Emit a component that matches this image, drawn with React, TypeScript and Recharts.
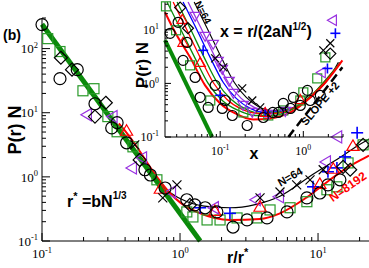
import React from 'react';
import { ComposedChart, Line, Scatter, XAxis, YAxis } from 'recharts';

type P = [number, number];

// ---------- main panel : P(r) N versus r/r* ----------
const mainXTicks = [0.1, 0.2, 0.3, 0.4, 0.5, 0.6, 0.7, 0.8, 0.9, 1, 2, 3, 4, 5, 6, 7, 8, 9, 10, 20];
const mainYTicks = [0.1, 0.2, 0.3, 0.4, 0.5, 0.6, 0.7, 0.8, 0.9, 1, 2, 3, 4, 5, 6, 7, 8, 9, 10, 20, 30, 40, 50, 60, 70, 80, 90, 100, 200, 300];

const mainSlopeLine: P[] = [[0.1, 240], [1.4, 0.1]];
const mainCurveN8192: P[] = [[0.36, 6.8], [0.4, 5.2], [0.5, 2.7], [0.61, 1.4], [0.72, 0.85], [0.85, 0.55], [1, 0.4], [1.4, 0.27], [2.3, 0.213], [3.8, 0.22], [5.3, 0.27], [8.3, 0.48], [12.2, 0.9], [16.2, 1.38], [22, 2.0], [23.4, 2.15]];
const mainCurveN64: P[] = [[0.8, 0.62], [1, 0.46], [1.5, 0.35], [2.3, 0.33], [3.5, 0.37], [5.3, 0.5], [9.2, 1.1], [14.4, 2.0], [20, 3.2], [23.4, 3.9]];

const mainCircles: P[] = [[0.1, 237], [0.135, 34], [0.18, 47], [0.242, 13.8], [0.32, 5.8], [0.35, 7.0], [0.41, 3.4], [0.557, 1.29], [0.61, 1.07], [0.78, 0.67], [1.12, 0.44], [1.28, 0.365], [1.52, 0.33], [1.85, 0.284], [2.42, 0.165], [3.06, 0.213], [4.27, 0.229], [5.96, 0.284], [8.3, 0.47], [10.3, 0.56], [11.8, 0.75], [14.4, 0.9]];
const mainDiamonds: P[] = [[0.137, 72], [0.165, 47], [0.29, 14.3], [0.242, 8.7], [0.51, 1.84], [1.18, 0.365], [15.2, 1.43], [17.1, 1.29], [21.2, 3.16]];
const mainSquares: P[] = [[0.11, 143], [0.135, 90], [0.198, 22], [0.238, 23.7], [0.3, 8.7], [0.35, 5.05], [0.456, 2.94], [0.68, 0.9], [1.12, 0.284], [1.24, 0.237], [1.57, 0.213], [1.95, 0.213], [2.59, 0.229], [3.6, 0.229], [4.49, 0.305], [6.27, 0.33], [8.3, 0.41], [11.6, 0.63], [13.7, 0.7], [16.5, 1.65], [21.2, 3.16]];
const mainTriLeft: P[] = [[0.215, 9.3], [0.33, 8.7], [0.54, 1.98], [0.456, 1.38], [0.875, 0.58], [1.79, 0.33], [3.6, 0.44], [5.3, 0.49], [11.6, 1.71], [14, 4.2]];
const mainPlus: P[] = [[1.4, 0.33], [2.3, 0.27], [9.2, 0.7], [11.8, 1.2], [13.7, 1.38], [15.7, 2.05], [19.2, 4.87]];
const mainTriUp: P[] = [[0.41, 5.05], [0.72, 0.63], [1.79, 0.284], [3.8, 0.33], [10.3, 0.75], [12.9, 1.29], [17.9, 2.94]];
const mainCross: P[] = [[0.47, 3.16], [0.95, 0.75], [0.75, 0.47], [3.8, 0.47], [5.3, 0.58], [7.0, 0.75], [8.75, 0.9], [10.9, 1.29]];

// ---------- inset : P(r) N versus x = r/(2aN^1/2) ----------
const insetXTicks = [0.03, 0.04, 0.05, 0.06, 0.07, 0.08, 0.09, 0.1, 0.2, 0.3, 0.4, 0.5, 0.6, 0.7, 0.8, 0.9, 1, 2, 3];
const insetYTicks = [0.1, 0.2, 0.3, 0.4, 0.5, 0.6, 0.7, 0.8, 0.9, 1, 2, 3, 4, 5, 6, 7, 8, 9, 10, 20, 30];

const insetSlopeLine: P[] = [[0.0217, 6.4], [0.08, 0.1]];
const insetSlopePlus2: P[] = [[0.66, 0.1], [2.95, 2.0]];
const insetCurveN8192: P[] = [[0.0217, 21.2], [0.0287, 8.98], [0.0435, 3.06], [0.0659, 0.918], [0.1, 0.423], [0.152, 0.275], [0.25, 0.212], [0.4, 0.222], [0.697, 0.287], [1.214, 0.547], [1.84, 1.04], [2.95, 2.69]];
const insetCurveGreenA: P[] = [[0.023, 33], [0.033, 10.7], [0.05, 2.93], [0.0717, 1], [0.106, 0.481], [0.165, 0.313], [0.264, 0.252], [0.423, 0.252], [0.697, 0.313], [1.214, 0.571], [1.84, 1.14], [2.79, 2.47]];
const insetCurveRedA: P[] = [[0.0272, 33], [0.0389, 10.7], [0.0574, 3.06], [0.0824, 1.04], [0.121, 0.502], [0.184, 0.327], [0.287, 0.275], [0.46, 0.275], [0.737, 0.341], [1.214, 0.571], [1.84, 1.14], [2.79, 2.47]];
const insetCurveGreenB: P[] = [[0.0303, 33], [0.0435, 10.7], [0.0641, 3.06], [0.092, 1.04], [0.136, 0.502], [0.206, 0.327], [0.312, 0.275], [0.5, 0.287], [0.801, 0.356], [1.283, 0.597], [1.95, 1.19], [2.79, 2.36]];
const insetCurveBlue: P[] = [[0.0358, 33], [0.0514, 10.7], [0.0758, 3.06], [0.109, 1.04], [0.156, 0.525], [0.23, 0.341], [0.348, 0.287], [0.528, 0.3], [0.824, 0.372], [1.283, 0.597], [1.95, 1.19], [2.79, 2.47]];
const insetCurvePurple: P[] = [[0.0411, 33], [0.059, 10.7], [0.0871, 3.06], [0.125, 1.04], [0.179, 0.525], [0.257, 0.356], [0.379, 0.3], [0.574, 0.313], [0.871, 0.388], [1.357, 0.65], [2.0, 1.24], [2.79, 2.47]];
const insetCurveN64: P[] = [[0.0486, 33], [0.0697, 10.7], [0.103, 3.06], [0.148, 1.04], [0.206, 0.547], [0.287, 0.372], [0.423, 0.313], [0.641, 0.327], [0.973, 0.423], [1.435, 0.679], [2.06, 1.29], [2.64, 2.47]];

const insetCircles: P[] = [[0.025, 8.6], [0.0312, 13.8], [0.04, 5.8], [0.0358, 2.69], [0.05, 1.29], [0.0574, 0.55], [0.0717, 0.356], [0.087, 0.918], [0.106, 0.341], [0.115, 0.48], [0.14, 0.252], [0.211, 0.164], [0.33, 0.231], [0.43, 0.287], [0.5, 0.287], [0.574, 0.423], [0.7, 0.341], [0.76, 0.547], [0.92, 0.388], [1.12, 0.74], [1.21, 0.48], [1.6, 0.6]];
const insetSquares: P[] = [[0.0223, 27.4], [0.0295, 9.8], [0.0435, 2.17], [0.076, 0.48], [0.19, 0.287], [0.379, 0.252], [0.574, 0.313], [0.92, 0.48], [1.0, 0.68], [1.47, 1.24], [1.84, 3.06]];
const insetTriDown: P[] = [[0.05, 18.6], [0.0659, 7.9], [0.0824, 5.6], [0.0944, 2.69], [0.106, 1.91], [0.128, 1.14], [0.144, 0.679], [0.189, 0.405], [0.243, 0.3], [0.379, 0.275], [0.607, 0.313]];
const insetTriLeft: P[] = [[2.3, 15], [1.69, 1.6]];
const insetPlus: P[] = [[0.0624, 4.14], [0.1, 0.6], [0.348, 0.287], [1.95, 1.9], [2.43, 8.6]];
const insetCross: P[] = [[0.0871, 2.93], [0.109, 1.99], [0.184, 0.81], [0.243, 0.48], [0.303, 0.356], [1.74, 4.14], [2.11, 5.6]];
const insetTriUp: P[] = [[0.035, 15], [0.0358, 5.6], [0.0574, 2.36], [0.348, 0.275], [0.92, 0.48]];
const insetDiamonds: P[] = [[0.033, 26], [0.041, 10.7], [2.11, 3.6]];

// ---------- helpers ----------
const pts = (a: P[]) => a.map(([x, y]) => ({ x, y }));

const SERIF = "'Liberation Serif', 'DejaVu Serif', serif";
const SANS = "'Liberation Sans', Arial, sans-serif";
const GREEN = '#0a8a0a';
const SQ_GREEN = '#2a9a2a';
const PURPLE = '#9932e0';
const BLUE = '#0000ff';
const RED = '#ff0000';

const isDecade = (v: number) => {
  const l = Math.log10(v);
  return Math.abs(l - Math.round(l)) < 1e-6;
};

const makeXTick = (maj: number, min: number, fs: number, dy: number) => (props: any) => {
  const { x, y, payload } = props;
  const v = payload.value;
  const major = isDecade(v);
  return (
    <g>
      <line x1={x} x2={x} y1={y} y2={y - (major ? maj : min)} stroke="#000" strokeWidth={1} />
      {major && (
        <text x={x} y={y + dy} textAnchor="middle" fontFamily={SERIF} fontSize={fs} fill="#000">
          10<tspan dy={-fs * 0.42} fontSize={fs * 0.65}>{Math.round(Math.log10(v))}</tspan>
        </text>
      )}
    </g>
  );
};

const makeYTick = (maj: number, min: number, fs: number, gap: number) => (props: any) => {
  const { x, y, payload } = props;
  const v = payload.value;
  const major = isDecade(v);
  return (
    <g>
      <line x1={x} x2={x + (major ? maj : min)} y1={y} y2={y} stroke="#000" strokeWidth={1} />
      {major && (
        <text x={x - gap} y={y + fs * 0.36} textAnchor="end" fontFamily={SERIF} fontSize={fs} fill="#000">
          10<tspan dy={-fs * 0.42} fontSize={fs * 0.65}>{Math.round(Math.log10(v))}</tspan>
        </text>
      )}
    </g>
  );
};

const circle = (r: number, c: string) => (p: any) => <circle cx={p.cx} cy={p.cy} r={r} fill="none" stroke={c} strokeWidth={1.2} />;
const square = (s: number, c: string) => (p: any) => <rect x={p.cx - s / 2} y={p.cy - s / 2} width={s} height={s} fill="none" stroke={c} strokeWidth={1.2} />;
const diamond = (r: number, c: string) => (p: any) => (
  <polygon points={`${p.cx},${p.cy - r} ${p.cx + r},${p.cy} ${p.cx},${p.cy + r} ${p.cx - r},${p.cy}`} fill="none" stroke={c} strokeWidth={1.2} />
);
const triLeft = (r: number, c: string) => (p: any) => (
  <polygon points={`${p.cx - r},${p.cy} ${p.cx + r * 0.5},${p.cy - r * 0.87} ${p.cx + r * 0.5},${p.cy + r * 0.87}`} fill="none" stroke={c} strokeWidth={1.2} />
);
const triUp = (r: number, c: string) => (p: any) => (
  <polygon points={`${p.cx},${p.cy - r} ${p.cx + r * 0.87},${p.cy + r * 0.5} ${p.cx - r * 0.87},${p.cy + r * 0.5}`} fill="none" stroke={c} strokeWidth={1.2} />
);
const triDown = (r: number, c: string) => (p: any) => (
  <polygon points={`${p.cx},${p.cy + r} ${p.cx + r * 0.87},${p.cy - r * 0.5} ${p.cx - r * 0.87},${p.cy - r * 0.5}`} fill="none" stroke={c} strokeWidth={1.2} />
);
const plus = (r: number, c: string) => (p: any) => (
  <g stroke={c} strokeWidth={1.6}>
    <line x1={p.cx - r} x2={p.cx + r} y1={p.cy} y2={p.cy} />
    <line x1={p.cx} x2={p.cx} y1={p.cy - r} y2={p.cy + r} />
  </g>
);
const cross = (r: number, c: string) => (p: any) => (
  <g stroke={c} strokeWidth={1.2}>
    <line x1={p.cx - r} x2={p.cx + r} y1={p.cy - r} y2={p.cy + r} />
    <line x1={p.cx - r} x2={p.cx + r} y1={p.cy + r} y2={p.cy - r} />
  </g>
);

const W = 369;
const H = 268;

function MainChart() {
  return (
    <ComposedChart width={W} height={H} margin={{ top: 18, right: 0, bottom: 0, left: 0 }}>
      <XAxis type="number" dataKey="x" scale="log" domain={[0.1, 23.4]} ticks={mainXTicks} interval={0}
        height={27} tickSize={0} tickMargin={0} tickLine={false} axisLine={{ stroke: '#000' }} tick={makeXTick(8, 4, 13, 17)} />
      <YAxis type="number" dataKey="y" scale="log" domain={[0.1, 300]} ticks={mainYTicks} interval={0}
        width={42} tickSize={0} tickMargin={0} tickLine={false} axisLine={{ stroke: '#000' }} tick={makeYTick(8, 4, 13, 4)} />
      <Scatter data={pts(mainSquares)} shape={square(10, SQ_GREEN)} isAnimationActive={false} />
      <Scatter data={pts(mainTriLeft)} shape={triLeft(7, PURPLE)} isAnimationActive={false} />
      <Scatter data={pts(mainPlus)} shape={plus(6, BLUE)} isAnimationActive={false} />
      <Scatter data={pts(mainTriUp)} shape={triUp(7, RED)} isAnimationActive={false} />
      <Scatter data={pts(mainDiamonds)} shape={diamond(6.5, '#000')} isAnimationActive={false} />
      <Scatter data={pts(mainCircles)} shape={circle(6, '#000')} isAnimationActive={false} />
      <Scatter data={pts(mainCross)} shape={cross(4.5, '#000')} isAnimationActive={false} />
      <Line data={pts(mainCurveN64)} dataKey="y" type="monotone" stroke="#000" strokeWidth={1.2} dot={false} isAnimationActive={false} />
      <Line data={pts(mainCurveN8192)} dataKey="y" type="monotone" stroke={RED} strokeWidth={2} dot={false} isAnimationActive={false} />
      <Line data={pts(mainSlopeLine)} dataKey="y" type="linear" stroke={GREEN} strokeWidth={5} dot={false} isAnimationActive={false} />
    </ComposedChart>
  );
}

function InsetChart() {
  const thin = (d: P[], c: string, w = 1.3) => (
    <Line data={pts(d)} dataKey="y" type="monotone" stroke={c} strokeWidth={w} dot={false} isAnimationActive={false} />
  );
  return (
    <ComposedChart width={W} height={H} margin={{ top: 2, right: 26, bottom: 0, left: 0 }}>
      <XAxis type="number" dataKey="x" scale="log" domain={[0.0217, 3]} ticks={insetXTicks} interval={0}
        height={131} tickSize={0} tickMargin={0} tickLine={false} axisLine={{ stroke: '#000' }} tick={makeXTick(6, 3, 12, 18)} />
      <YAxis type="number" dataKey="y" scale="log" domain={[0.1, 33]} ticks={insetYTicks} interval={0}
        width={165} tickSize={0} tickMargin={0} tickLine={false} axisLine={{ stroke: '#000' }} tick={makeYTick(6, 3, 12, 6)} />
      {thin(insetCurveN64, '#000', 1.1)}
      {thin(insetCurvePurple, PURPLE)}
      {thin(insetCurveBlue, BLUE)}
      {thin(insetCurveGreenB, GREEN)}
      {thin(insetCurveRedA, RED)}
      {thin(insetCurveGreenA, GREEN)}
      <Scatter data={pts(insetSquares)} shape={square(9, SQ_GREEN)} isAnimationActive={false} />
      <Scatter data={pts(insetTriDown)} shape={triDown(6, PURPLE)} isAnimationActive={false} />
      <Scatter data={pts(insetTriLeft)} shape={triLeft(6, PURPLE)} isAnimationActive={false} />
      <Scatter data={pts(insetPlus)} shape={plus(5, BLUE)} isAnimationActive={false} />
      <Scatter data={pts(insetTriUp)} shape={triUp(6, RED)} isAnimationActive={false} />
      <Scatter data={pts(insetDiamonds)} shape={diamond(5.5, '#000')} isAnimationActive={false} />
      <Scatter data={pts(insetCircles)} shape={circle(5, '#000')} isAnimationActive={false} />
      <Scatter data={pts(insetCross)} shape={cross(4, '#000')} isAnimationActive={false} />
      {thin(insetCurveN8192, RED, 2)}
      <Line data={pts(insetSlopeLine)} dataKey="y" type="linear" stroke={GREEN} strokeWidth={4} dot={false} isAnimationActive={false} />
      <Line data={pts(insetSlopePlus2)} dataKey="y" type="linear" stroke="#000" strokeWidth={2.5} strokeDasharray="9 5" dot={false} isAnimationActive={false} />
    </ComposedChart>
  );
}

function Labels() {
  const b = { fontFamily: SANS, fontWeight: 700 as const, fill: '#000' };
  return (
    <svg width={W} height={H} style={{ position: 'absolute', left: 0, top: 0, pointerEvents: 'none' }}>
      <text x={3} y={40} fontSize={14} {...b}>(b)</text>
      <text transform="translate(21,130) rotate(-90)" textAnchor="middle" fontSize={18} {...b}>P(r) N</text>
      <text transform="translate(148,65) rotate(-90)" textAnchor="middle" fontSize={17} {...b}>P(r) N</text>
      <text x={220} y={37} fontSize={16} {...b}>
        x = r/(2aN<tspan dy={-7} fontSize={10}>1/2</tspan><tspan dy={7} fontSize={16}>)</tspan>
      </text>
      <text x={254} y={159} textAnchor="middle" fontSize={16} {...b}>x</text>
      <text x={227} y={263} fontSize={16} {...b}>
        r/r<tspan dy={-7} fontSize={11}>*</tspan>
      </text>
      <text x={67} y={207} fontSize={16} {...b}>
        r<tspan dy={-7} fontSize={11}>*</tspan><tspan dy={7} fontSize={16}> =bN</tspan><tspan dy={-8} fontSize={10}>1/3</tspan>
      </text>
      <text transform="translate(200,14) rotate(63)" textAnchor="middle" fontSize={10} {...b}>N=64</text>
      <text transform="translate(323,106) rotate(-50)" textAnchor="middle" fontSize={11} {...b}>SLOPE +2</text>
      <text transform="translate(292,180) rotate(-30)" textAnchor="middle" fontSize={11} {...b}>N=64</text>
      <text transform="translate(350,190) rotate(-35)" textAnchor="middle" fontSize={12} fontFamily={SANS} fontWeight={700} fill={RED}>N=8192</text>
    </svg>
  );
}

export default function App() {
  return (
    <div style={{ position: 'fixed', left: 0, top: 0, width: W, height: H, background: '#fff', overflow: 'hidden' }}>
      <div style={{ position: 'absolute', left: 0, top: 0 }}>
        <MainChart />
      </div>
      <div style={{ position: 'absolute', left: 0, top: 0 }}>
        <InsetChart />
      </div>
      <Labels />
    </div>
  );
}
